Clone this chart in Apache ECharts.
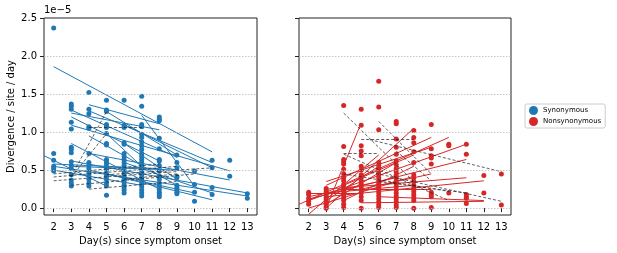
<!DOCTYPE html>
<html>
<head>
<meta charset="utf-8">
<script src="https://cdn.jsdelivr.net/npm/echarts@6/dist/echarts.min.js"></script>
<style>
  html, body { margin: 0; padding: 0; background: #fff; }
  #chart { width: 617px; height: 253px; }
</style>
</head>
<body>
<div id="chart"></div>
<script>
// tick labels
var dayTicks = [2, 3, 4, 5, 6, 7, 8, 9, 10, 11, 12, 13];
var divTicks = [0, 0.5, 1.0, 1.5, 2.0, 2.5];
var gridVals = [0, 0.5, 1.0, 1.5, 2.0];

// synonymous divergence (x 1e-5) by day
var synDay = [2, 3, 4, 5, 6, 7, 8, 9, 10, 11, 12, 13];
var synVals = [
  [2.37, 0.72, 0.63, 0.55, 0.52, 0.49],
  [1.37, 1.34, 1.30, 1.13, 1.04, 0.80, 0.77, 0.73, 0.61, 0.56, 0.52, 0.44, 0.37, 0.33, 0.29],
  [1.52, 1.30, 1.24, 1.07, 1.05, 0.72, 0.60, 0.56, 0.52, 0.48, 0.45, 0.42, 0.38, 0.33, 0.29],
  [1.42, 1.29, 1.27, 1.10, 1.08, 1.06, 0.98, 0.85, 0.83, 0.64, 0.61, 0.58, 0.54, 0.50, 0.45, 0.42, 0.38, 0.33, 0.29, 0.17],
  [1.42, 1.09, 1.06, 0.86, 0.84, 0.72, 0.68, 0.64, 0.60, 0.56, 0.52, 0.48, 0.45, 0.42, 0.38, 0.34, 0.30, 0.27, 0.24, 0.20],
  [1.47, 1.34, 1.10, 1.07, 0.97, 0.93, 0.87, 0.82, 0.77, 0.72, 0.68, 0.64, 0.60, 0.56, 0.52, 0.48, 0.44, 0.40, 0.36, 0.32, 0.28, 0.24, 0.20, 0.16],
  [1.20, 1.17, 1.15, 0.92, 0.78, 0.64, 0.62, 0.56, 0.49, 0.42, 0.38, 0.33, 0.29, 0.25, 0.21, 0.18, 0.15],
  [0.70, 0.60, 0.53, 0.42, 0.40, 0.30, 0.27, 0.25, 0.21, 0.19],
  [0.49, 0.31, 0.21, 0.09],
  [0.63, 0.53, 0.27, 0.18],
  [0.63, 0.42],
  [0.19, 0.13]
];

// nonsynonymous divergence (x 1e-5) by day
var nonDay = [2, 3, 4, 5, 6, 7, 8, 9, 10, 11, 12, 13];
var nonVals = [
  [0.21, 0.18, 0.13, 0.09, 0.05],
  [0.26, 0.23, 0.20, 0.17, 0.14, 0.11, 0.08, 0.05, 0.02, 0.0],
  [1.35, 0.81, 0.64, 0.61, 0.58, 0.51, 0.45, 0.40, 0.36, 0.31, 0.27, 0.22, 0.18, 0.14, 0.10, 0.05, 0.01],
  [1.30, 1.09, 0.82, 0.75, 0.69, 0.55, 0.50, 0.44, 0.40, 0.36, 0.32, 0.28, 0.24, 0.20, 0.15, 0.10, 0.0],
  [1.67, 1.33, 1.03, 0.60, 0.56, 0.52, 0.48, 0.44, 0.40, 0.36, 0.32, 0.28, 0.24, 0.20, 0.16, 0.12, 0.08, 0.04, 0.01],
  [1.14, 1.11, 0.91, 0.80, 0.71, 0.62, 0.57, 0.52, 0.48, 0.44, 0.40, 0.36, 0.32, 0.28, 0.24, 0.20, 0.16, 0.12, 0.08, 0.04, 0.01],
  [1.02, 0.93, 0.86, 0.74, 0.60, 0.44, 0.40, 0.35, 0.30, 0.26, 0.22, 0.18, 0.14, 0.10, 0.0],
  [1.10, 0.78, 0.69, 0.66, 0.58, 0.21, 0.18, 0.15, 0.01],
  [0.84, 0.82, 0.20],
  [0.84, 0.71, 0.18, 0.15, 0.13, 0.06],
  [0.43, 0.20],
  [0.45, 0.04]
];

// per-patient fits: [dayStart, valStart, dayEnd, valEnd]
var synFitSig = [
  [2, 1.86, 11, 0.74], [3, 1.29, 9, 0.67], [3, 1.20, 8, 0.62], [3, 1.25, 8, 1.03],
  [4, 1.36, 8, 1.11], [4, 1.28, 11, 0.60], [5, 1.27, 9, 0.70], [6, 1.10, 11, 0.53],
  [3, 1.09, 12, 0.49], [4, 0.72, 12, 0.37], [3, 0.62, 13, 0.20], [2, 0.55, 13, 0.16],
  [5, 0.45, 11, 0.11], [7, 1.22, 10, 0.29], [6, 0.60, 11, 0.20], [1.45, 0.69, 5, 0.29],
  [3, 0.85, 8, 0.25], [4, 0.95, 9, 0.30], [2, 0.58, 8, 0.52], [3, 0.55, 9, 0.50],
  [5, 0.98, 7, 0.55], [4, 0.50, 10, 0.20], [6, 0.85, 9, 0.38], [2, 0.50, 7, 0.30]
];
var synFitNs = [
  [3, 0.42, 5, 1.27], [3, 0.41, 5, 0.98], [4, 1.07, 7, 1.07], [2, 0.41, 9, 0.55],
  [2, 0.36, 9, 0.48], [2, 0.45, 8, 0.58], [5, 0.44, 11, 0.53], [6, 0.38, 9, 0.45],
  [4, 0.25, 9, 0.35], [3, 0.30, 10, 0.45]
];
var nonFitSig = [
  [3, 0.0, 5, 1.12], [3, 0.0, 8, 1.05], [2, -0.08, 6, 0.70], [1.45, 0.05, 10, 0.93],
  [2, 0.10, 11, 0.84], [2, 0.12, 11, 0.64], [3, 0.30, 9, 0.93], [3, 0.35, 9, 0.80],
  [2, 0.20, 5, 0.20], [5, 0.07, 12, 0.09], [3, 0.15, 12, 0.36], [4, 0.10, 8, 0.55],
  [3, 0.05, 7, 0.60], [2, 0.0, 8, 0.42], [3, 0.20, 8, 0.30], [4, 0.25, 9, 0.25],
  [2, 0.15, 7, 0.40], [3, 0.10, 6, 0.55], [4, 0.30, 8, 0.70], [5, 0.25, 9, 0.45],
  [3, 0.25, 11, 0.40], [6, 0.15, 12, 0.10]
];
var nonFitNs = [
  [4, 1.25, 8, 0.35], [6, 1.14, 9, 0.45], [5, 0.91, 8, 0.91], [5.5, 0.90, 13, 0.48],
  [4, 0.71, 10, 0.10], [5, 0.50, 13, 0.09], [7, 0.75, 9, 0.36], [4, 0.45, 10, 0.22],
  [6, 0.35, 11, 0.20], [4, 0.72, 6, 0.72]
];

function points(days, vals) {
  var out = [];
  days.forEach(function (d, i) {
    vals[i].forEach(function (v) { out.push([d, v]); });
  });
  return out;
}
function segs(list) {
  return list.map(function (s) { return { coords: [[s[0], s[1]], [s[2], s[3]]] }; });
}

var font = "DejaVu Sans";
var blue = "#1f77b4";
var red = "#d62728";

function xAx(idx) {
  return {
    gridIndex: idx, type: "value", min: 1.45, max: 13.55,
    name: "Day(s) since symptom onset", nameLocation: "middle", nameGap: 21,
    nameTextStyle: { fontFamily: font, fontSize: 10, color: "#000" },
    axisLine: { show: false },
    axisTick: { show: true, length: 4, customValues: dayTicks, lineStyle: { color: "#222" } },
    axisLabel: { customValues: dayTicks, margin: 7, fontFamily: font, fontSize: 10, color: "#000" },
    splitLine: { show: false }
  };
}
function yAx(idx, labels) {
  return {
    gridIndex: idx, type: "value", min: -0.09, max: 2.5,
    name: labels ? "Divergence / site / day" : "", nameLocation: "middle", nameGap: 28,
    nameTextStyle: { fontFamily: font, fontSize: 10, color: "#000" },
    axisLine: { show: false },
    axisTick: { show: true, length: 4, customValues: divTicks, lineStyle: { color: "#222" } },
    axisLabel: {
      show: labels, customValues: divTicks, margin: 7, fontFamily: font, fontSize: 10, color: "#000",
      formatter: function (v) { return v.toFixed(1); }
    },
    splitLine: { show: false }
  };
}
function gridMark() {
  return {
    silent: true, symbol: "none", label: { show: false },
    lineStyle: { type: [1.5, 1.5], color: "#b8b8b8", width: 0.8 },
    data: gridVals.map(function (v) { return { yAxis: v }; })
  };
}

var chart = echarts.init(document.getElementById("chart"));
chart.setOption({
  animation: false,
  textStyle: { fontFamily: font },
  grid: [
    { left: 44, top: 18, width: 213, height: 197, show: true, borderColor: "#222", borderWidth: 1, backgroundColor: "transparent" },
    { left: 299, top: 18, width: 212, height: 197, show: true, borderColor: "#222", borderWidth: 1, backgroundColor: "transparent" }
  ],
  xAxis: [xAx(0), xAx(1)],
  yAxis: [yAx(0, true), yAx(1, false)],
  legend: {
    orient: "vertical", left: 525, top: 104,
    data: ["Synonymous", "Nonsynonymous"],
    icon: "circle", itemWidth: 9, itemHeight: 9, itemGap: 2,
    padding: [2, 4, 2, 4],
    borderColor: "#ccc", borderWidth: 1, borderRadius: 2,
    textStyle: { fontFamily: font, fontSize: 7, color: "#000" }
  },
  graphic: [
    { type: "text", left: 44, top: 5, style: { text: "1e\u22125", font: "10px DejaVu Sans", fill: "#000" } }
  ],
  series: [
    {
      name: "Synonymous", type: "scatter", xAxisIndex: 0, yAxisIndex: 0,
      symbolSize: 5, itemStyle: { color: blue, opacity: 1 }, z: 3,
      data: points(synDay, synVals), markLine: gridMark()
    },
    {
      name: "Nonsynonymous", type: "scatter", xAxisIndex: 1, yAxisIndex: 1,
      symbolSize: 5, itemStyle: { color: red, opacity: 1 }, z: 3,
      data: points(nonDay, nonVals), markLine: gridMark()
    },
    {
      type: "lines", coordinateSystem: "cartesian2d", xAxisIndex: 0, yAxisIndex: 0, clip: true, z: 4,
      lineStyle: { color: blue, width: 1, opacity: 1 }, data: segs(synFitSig)
    },
    {
      type: "lines", coordinateSystem: "cartesian2d", xAxisIndex: 0, yAxisIndex: 0, clip: true, z: 4,
      lineStyle: { color: "#222", width: 0.8, type: [3, 2], opacity: 0.9 }, data: segs(synFitNs)
    },
    {
      type: "lines", coordinateSystem: "cartesian2d", xAxisIndex: 1, yAxisIndex: 1, clip: true, z: 4,
      lineStyle: { color: red, width: 1, opacity: 1 }, data: segs(nonFitSig)
    },
    {
      type: "lines", coordinateSystem: "cartesian2d", xAxisIndex: 1, yAxisIndex: 1, clip: true, z: 4,
      lineStyle: { color: "#222", width: 0.8, type: [3, 2], opacity: 0.9 }, data: segs(nonFitNs)
    }
  ]
});
</script>
</body>
</html>
